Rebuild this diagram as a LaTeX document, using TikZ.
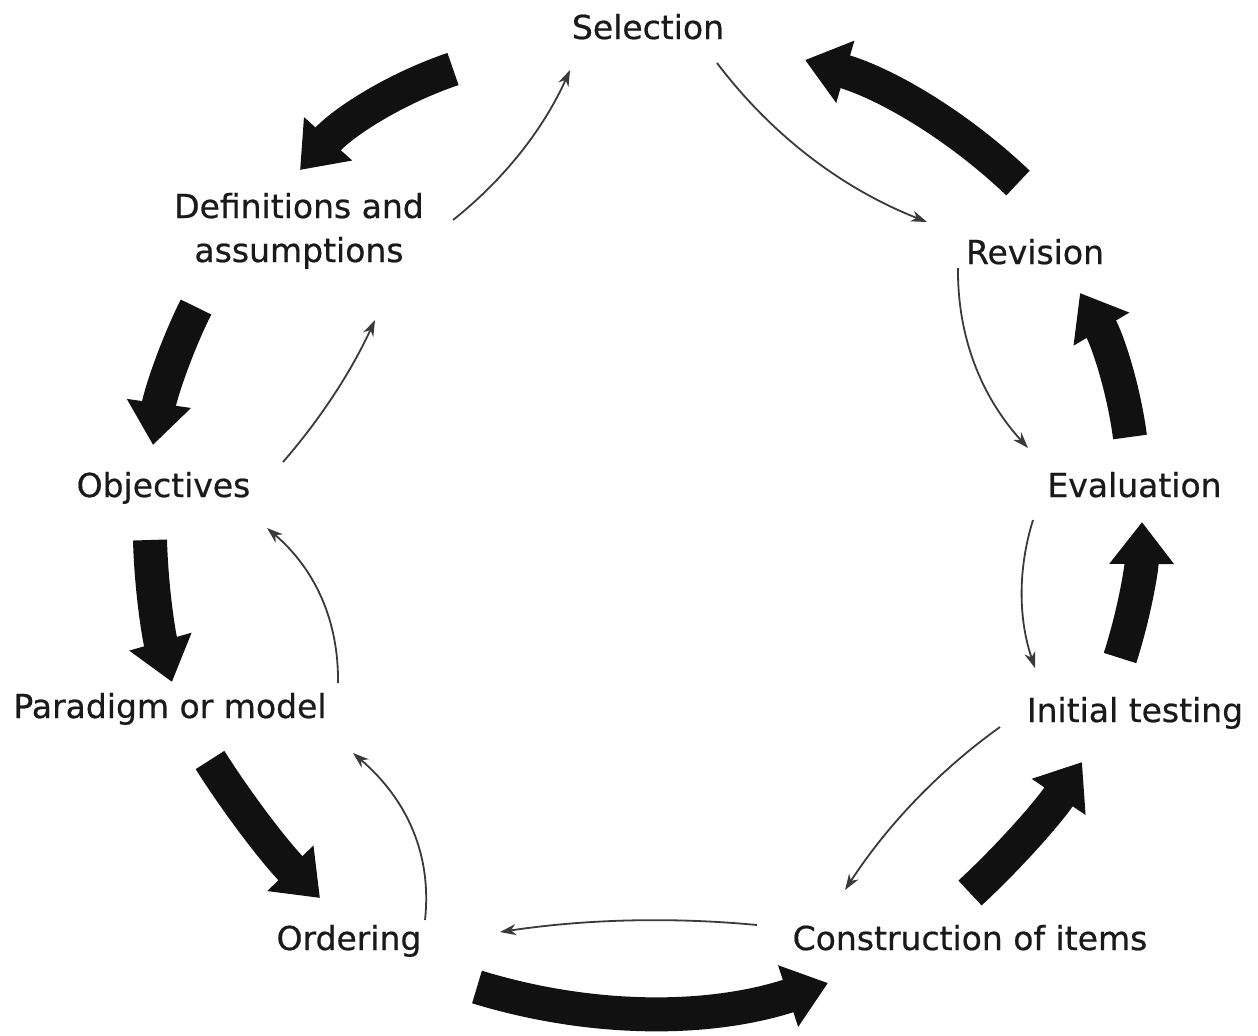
\documentclass[tikz,border=0pt]{standalone}
\usepackage{fontspec}
\setmainfont{DejaVu Sans}
\newfontfamily\stagefont{DejaVu Sans}[FakeBold=0.6]
\usetikzlibrary{arrows.meta}
\definecolor{ink}{HTML}{1A1A1A}
\definecolor{heavy}{HTML}{111111}
\definecolor{fine}{HTML}{3A3A3A}
\begin{document}
\begin{tikzpicture}[x=0.5pt,y=-0.5pt,
  stage/.style={font=\stagefont\fontsize{16.5pt}{22pt}\selectfont, text=ink, inner sep=0pt, anchor=base, align=center},
  bigarrow/.style={draw=heavy, line width=17pt, -{Triangle[length=21pt,width=31pt]}},
  thinarrow/.style={draw=fine, line width=0.9pt, -{Stealth[length=8pt,width=5.5pt,inset=2.5pt]}}
]
\useasboundingbox[fill=white] (0,0) rectangle (1258,1035);

% stages of the cycle (the base anchor sits on the last line)
\node[stage] (sel)  at (648,39)  {Selection};
\node[stage] (def)  at (299,262) {Definitions and\\assumptions};
\node[stage] (rev)  at (1035,264) {Revision};
\node[stage] (obj)  at (163.5,497) {Objectives};
\node[stage] (eva)  at (1134.5,497) {Evaluation};
\node[stage] (par)  at (170,718) {Paradigm or model};
\node[stage] (ini)  at (1135,722) {Initial testing};
\node[stage] (ord)  at (349,950) {Ordering};
\node[stage] (con)  at (970,950) {Construction of items};

% end points of the heavy arrows (outer ring)
\coordinate (h1s) at (453,69);   \coordinate (h1e) at (300,170);
\coordinate (h2s) at (1018,183); \coordinate (h2e) at (805,60);
\coordinate (h3s) at (196,307);  \coordinate (h3e) at (153,445);
\coordinate (h4s) at (150,540);  \coordinate (h4e) at (172,682);
\coordinate (h5s) at (210,760);  \coordinate (h5e) at (320,898);
\coordinate (h6s) at (477,987);  \coordinate (h6e) at (828,983);
\coordinate (h7s) at (970,893);  \coordinate (h7e) at (1082,762);
\coordinate (h8s) at (1120,658); \coordinate (h8e) at (1142,522);
\coordinate (h9s) at (1130,437); \coordinate (h9e) at (1080,293);

% end points of the thin arrows (inner ring)
\coordinate (t1s) at (453,220);  \coordinate (t1e) at (570,70);
\coordinate (t2s) at (717,63);   \coordinate (t2e) at (927,222);
\coordinate (t3s) at (958,268);  \coordinate (t3e) at (1028,448);
\coordinate (t4s) at (1033,520); \coordinate (t4e) at (1035,668);
\coordinate (t5s) at (1000,727); \coordinate (t5e) at (845,890);
\coordinate (t6s) at (757,925);  \coordinate (t6e) at (500,932);
\coordinate (t7s) at (425,920);  \coordinate (t7e) at (353,753);
\coordinate (t8s) at (338,683);  \coordinate (t8e) at (267,528);
\coordinate (t9s) at (283,462);  \coordinate (t9e) at (375,320);

% heavy arrows: Definitions <- Selection <- Revision <- Evaluation <- ...
\draw[bigarrow] (h1s) .. controls (393.5,89.2) and (342.5,122.8) .. (h1e);
\draw[bigarrow] (h2s) .. controls (956.5,124.5) and (885.5,83.5) .. (h2e);
\draw[bigarrow] (h3s) .. controls (174.2,351) and (159.8,397) .. (h3e);
\draw[bigarrow] (h4s) .. controls (151.3,588.3) and (158.7,635.7) .. (h4e);
\draw[bigarrow] (h5s) .. controls (241.7,810) and (278.3,856) .. (h5e);
\draw[bigarrow] (h6s) .. controls (593.7,1022.7) and (710.7,1021.3) .. (h6e);
\draw[bigarrow] (h7s) .. controls (1012.3,853.8) and (1049.7,810.2) .. (h7e);
\draw[bigarrow] (h8s) .. controls (1134.3,613.7) and (1141.7,568.3) .. (h8e);
\draw[bigarrow] (h9s) .. controls (1123.3,386) and (1106.7,338) .. (h9e);

% thin arrows running the other way round
\draw[thinarrow] (t1s) .. controls (504.5,179) and (543.5,129) .. (t1e);
\draw[thinarrow] (t2s) .. controls (772,135.5) and (842,188.5) .. (t2e);
\draw[thinarrow] (t3s) .. controls (957.3,336) and (980.7,396) .. (t3e);
\draw[thinarrow] (t4s) .. controls (1017.7,569.3) and (1018.3,618.7) .. (t4e);
\draw[thinarrow] (t5s) .. controls (938.8,770.8) and (887.2,825.2) .. (t5e);
\draw[thinarrow] (t6s) .. controls (670.8,916.8) and (585.2,919.2) .. (t6e);
\draw[thinarrow] (t7s) .. controls (432,855.8) and (408,800.2) .. (t7e);
\draw[thinarrow] (t8s) .. controls (338.8,620.8) and (315.2,569.2) .. (t8e);
\draw[thinarrow] (t9s) .. controls (320.7,418.7) and (351.3,371.3) .. (t9e);
\end{tikzpicture}
\end{document}
